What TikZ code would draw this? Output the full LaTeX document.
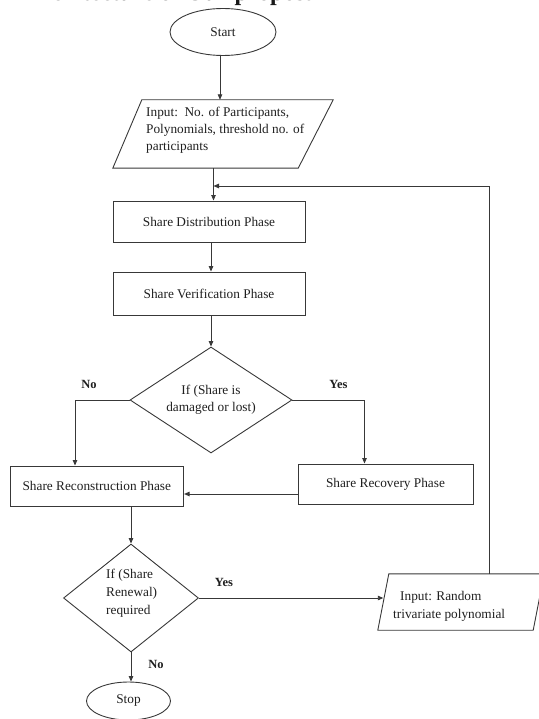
\documentclass[tikz,border=0pt]{standalone}
\usepackage{fontspec}
\setmainfont{Liberation Serif}
\usetikzlibrary{shapes.geometric,arrows.meta,calc}
\begin{document}
\begin{tikzpicture}[x=1pt,y=-1pt,
  line/.style={draw=black!78, line width=0.9pt},
  arr/.style={line, -{Triangle[length=5.5pt,width=4.5pt]}},
  txt/.style={font=\fontsize{13.3}{17}\selectfont, text=black!88, inner sep=0pt},
  lbl/.style={font=\fontsize{12.5}{15}\selectfont\bfseries, text=black!88, inner sep=0pt},
  box/.style={line, rectangle, txt, inner sep=0pt},
  oval/.style={line, ellipse, txt, inner sep=0pt},
  dec/.style={line, diamond, shape aspect=1.5, txt, inner sep=0pt, align=center},
  frame/.style={inner sep=0pt, draw=none}
]
\useasboundingbox (0,0) rectangle (538,719);
\begin{scope}
\clip (0,0) rectangle (538,719);
\node[font=\fontsize{24}{28}\selectfont\bfseries, text=black!90, anchor=base west, inner sep=0pt] (title) at (24,0.8) {Architecture of Our proposal};
\end{scope}

% start
\node[oval, minimum width=106pt, minimum height=47pt] (start) at (223,32) {Start};

% input 1
\node[frame, minimum width=220pt, minimum height=68pt] (in1) at (223,134) {};
\draw[line] ([xshift=29pt]in1.north west) -- (in1.north east) -- ([xshift=-35pt]in1.south east) -- (in1.south west) -- cycle;
\node[txt, align=left, anchor=west] (in1t) at (146,130) {Input:\ \ No. of Participants,\\Polynomials, threshold no. of\\participants};

% boxes
\node[box, minimum width=192pt, minimum height=41pt] (dist) at (209,221.5) {Share Distribution Phase};
\node[box, minimum width=192pt, minimum height=43pt] (verif) at (209,293.5) {Share Verification Phase};
\node[dec, minimum width=162pt, minimum height=106pt] (dia1) at (211,400) {If (Share is\\damaged or lost)};
\node[lbl] (no1) at (89,384) {No};
\node[lbl] (yes1) at (338.5,384) {Yes};
\node[box, minimum width=173.6pt, minimum height=40pt] (recon) at (96.8,486) {Share Reconstruction Phase};
\node[box, minimum width=175pt, minimum height=40pt] (recov) at (385.5,484) {Share Recovery Phase};

% decision 2
\node[dec, minimum width=135pt, minimum height=108pt] (dia2) at (131,598) {};
\node[txt, font=\fontsize{13.3}{18}\selectfont, align=left, anchor=west] (dia2t) at (106,593) {If (Share\\Renewal)\\required};
\node[lbl] (yes2) at (224,582) {Yes};
\node[lbl] (no2) at (156,664) {No};

% input 2
\node[frame, minimum width=166pt, minimum height=56pt] (in2) at (461,602) {};
\draw[line] ([xshift=11pt]in2.north west) -- (in2.north east) -- ([xshift=-11pt]in2.south east) -- (in2.south west) -- cycle;
\node[txt, font=\fontsize{13.3}{18}\selectfont, align=left, anchor=west] (in2t) at (393,606) {\hspace*{7pt}Input: Random\\trivariate polynomial};
\coordinate (in2L) at ($(in2.south west)!0.5!([xshift=11pt]in2.north west)$);

% stop
\node[oval, minimum width=84pt, minimum height=38pt] (stop) at (128.5,701) {Stop};

% connectors
\coordinate (join) at (213.5,186);
\draw[arr] ([xshift=-3pt]start.south) -- ([xshift=-3pt]start.south |- in1.north);
\draw[arr] (in1.south -| join) -- (join |- dist.north);
\draw[arr] ([xshift=2pt]dist.south) -- ([xshift=2pt]dist.south |- verif.north);
\draw[arr] (dia1.north |- verif.south) -- (dia1.north);
\draw[arr] (dia1.west) -| ([xshift=-21.8pt]recon.north);
\draw[arr] (dia1.east) -| ([xshift=-21pt]recov.north);
\draw[arr] ([yshift=-10pt]recov.west) -- ([yshift=-10pt]recov.west -| recon.east);
\draw[arr] (recon.south -| dia2.north) -- (dia2.north);
\draw[arr] (dia2.east) -- (dia2.east -| in2L);
\draw[arr] ([xshift=28pt]in2.north) |- (join);
\draw[arr] (dia2.south) -- (dia2.south |- stop.north);
\end{tikzpicture}
\end{document}
